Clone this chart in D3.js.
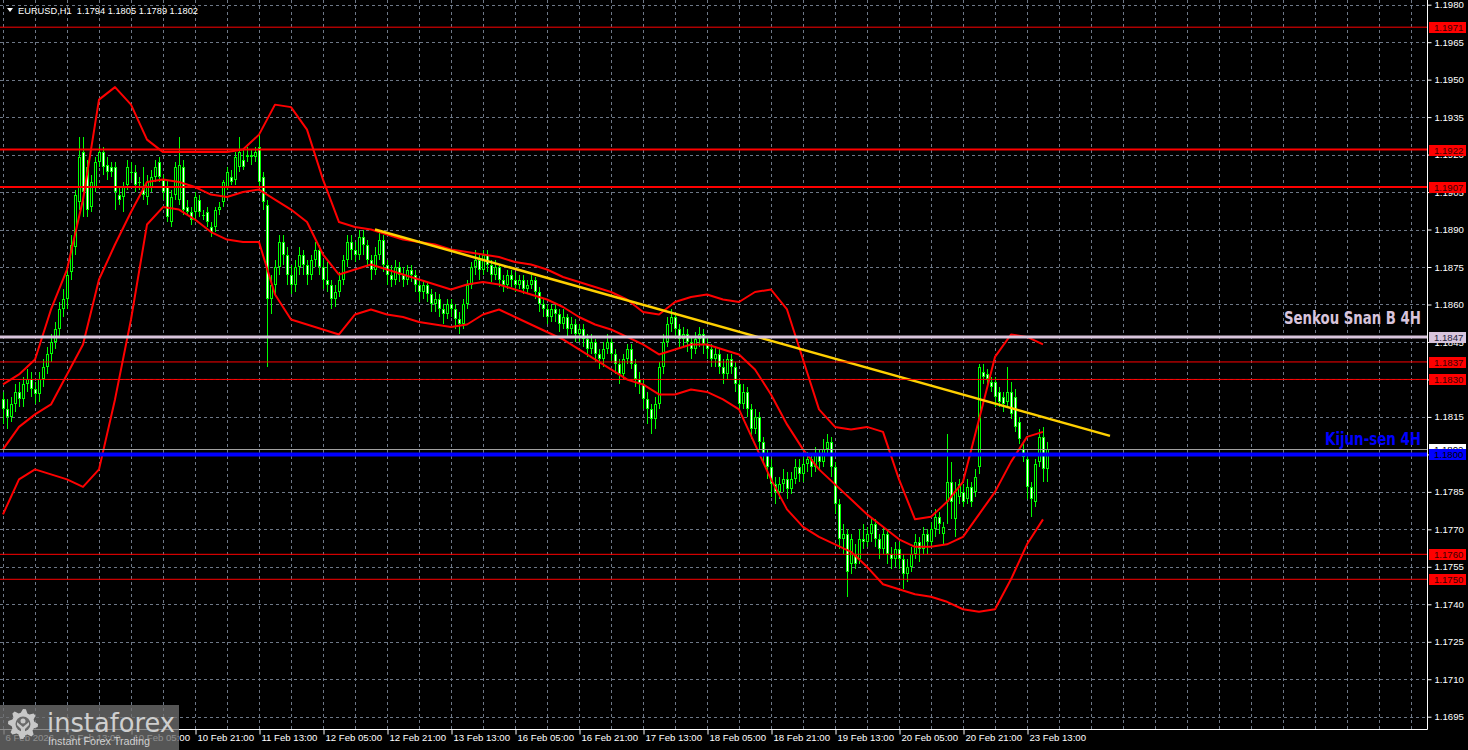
<!DOCTYPE html>
<html><head><meta charset="utf-8">
<script src="https://cdn.jsdelivr.net/npm/d3@7"></script>
<style>html,body{margin:0;padding:0;background:#000;overflow:hidden}</style>
</head><body><svg id="c" width="1468" height="750"></svg>
<script>
// ---------- DATA ----------
const symbolTitle = "EURUSD,H1  1.1794 1.1805 1.1789 1.1802";
const priceTicks = [1.1695,1.1710,1.1725,1.1740,1.1755,1.1770,1.1785,1.1800,1.1815,1.1830,1.1845,1.1860,1.1875,1.1890,1.1905,1.1920,1.1935,1.1950,1.1965,1.1980];
const timeLabels = ["6 Feb 2026","9 Feb 13:00","10 Feb 05:00","10 Feb 21:00","11 Feb 13:00","12 Feb 05:00","12 Feb 21:00","13 Feb 13:00","16 Feb 05:00","16 Feb 21:00","17 Feb 13:00","18 Feb 05:00","18 Feb 21:00","19 Feb 13:00","20 Feb 05:00","20 Feb 21:00","23 Feb 13:00"];
const timeLabelBars = [0,16,32,48,64,80,96,112,128,144,160,176,192,208,224,240,256];

const opens = [
1.1822,1.1818,1.1815,1.1820,1.1825,1.1822,1.1828,1.1830,1.1826,1.1824,1.1830,1.1835,1.1840,1.1845,1.1850,1.1858,
1.1862,1.1873,1.1883,1.1901,1.1921,1.1915,1.1899,1.1907,1.1917,1.1921,1.1916,1.1915,1.1915,1.1904,1.1903,1.1908,
1.1913,1.1913,1.1909,1.1907,1.1903,1.1907,1.1911,1.1917,1.1910,1.1907,1.1893,1.1904,1.1902,1.1915,1.1899,1.1897,
1.1897,1.1902,1.1896,1.1897,1.1891,1.1891,1.1898,1.1901,1.1907,1.1911,1.1910,1.1915,1.1918,1.1919,1.1919,1.1919,
1.1923,1.1911,1.1900,1.1862,1.1868,1.1875,1.1885,1.1880,1.1872,1.1868,1.1875,1.1880,1.1876,1.1872,1.1878,1.1882,
1.1875,1.1870,1.1868,1.1862,1.1865,1.1870,1.1878,1.1885,1.1882,1.1880,1.1887,1.1884,1.1878,1.1874,1.1880,1.1886,
1.1876,1.1872,1.1870,1.1875,1.1872,1.1870,1.1874,1.1872,1.1868,1.1865,1.1868,1.1864,1.1860,1.1862,1.1858,1.1856,
1.1860,1.1858,1.1854,1.1852,1.1860,1.1868,1.1875,1.1878,1.1874,1.1880,1.1876,1.1872,1.1875,1.1870,1.1868,1.1872,
1.1870,1.1868,1.1870,1.1866,1.1868,1.1870,1.1865,1.1860,1.1858,1.1855,1.1858,1.1856,1.1852,1.1855,1.1850,1.1852,
1.1848,1.1850,1.1846,1.1842,1.1845,1.1840,1.1838,1.1842,1.1845,1.1840,1.1836,1.1832,1.1838,1.1842,1.1836,1.1830,
1.1828,1.1822,1.1818,1.1814,1.1820,1.1835,1.1845,1.1852,1.1855,1.1850,1.1846,1.1848,1.1845,1.1842,1.1846,1.1848,
1.1844,1.1842,1.1838,1.1840,1.1835,1.1832,1.1838,1.1835,1.1828,1.1820,1.1825,1.1818,1.1810,1.1815,1.1805,1.1800,
1.1795,1.1788,1.1785,1.1788,1.1790,1.1786,1.1790,1.1795,1.1792,1.1796,1.1798,1.1795,1.1800,1.1797,1.1802,1.1805,
1.1795,1.1780,1.1766,1.1768,1.1756,1.1760,1.1758,1.1766,1.1765,1.1768,1.1772,1.1766,1.1762,1.1768,1.1760,1.1758,
1.1762,1.1758,1.1752,1.1755,1.1760,1.1765,1.1762,1.1768,1.1765,1.1770,1.1775,1.1768,1.1781,1.1789,1.1774,1.1783,
1.1785,1.1782,1.1787,1.1785,1.1795,1.1833,1.1832,1.1829,1.1829,1.1825,1.1823,1.1821,1.1825,1.1823,1.1813,1.1802,
1.1798,1.1787,1.1781,1.1797,1.1807,1.1794];
const closes = [
1.1818,1.1815,1.1820,1.1825,1.1822,1.1828,1.1830,1.1826,1.1824,1.1830,1.1835,1.1840,1.1845,1.1850,1.1858,1.1862,
1.1872,1.1884,1.1904,1.1919,1.1905,1.1898,1.1909,1.1917,1.1921,1.1915,1.1913,1.1913,1.1905,1.1902,1.1907,1.1915,
1.1913,1.1908,1.1909,1.1904,1.1909,1.1911,1.1915,1.1911,1.1905,1.1895,1.1903,1.1915,1.1916,1.1898,1.1897,1.1894,
1.1903,1.1897,1.1896,1.1893,1.1889,1.1898,1.1899,1.1909,1.1913,1.1909,1.1919,1.1921,1.1915,1.1920,1.1920,1.1921,
1.1909,1.1901,1.1862,1.1868,1.1875,1.1885,1.1880,1.1872,1.1868,1.1875,1.1880,1.1876,1.1872,1.1878,1.1882,1.1875,
1.1870,1.1868,1.1862,1.1865,1.1870,1.1878,1.1885,1.1882,1.1880,1.1887,1.1884,1.1878,1.1874,1.1880,1.1886,1.1876,
1.1872,1.1870,1.1875,1.1872,1.1870,1.1874,1.1872,1.1868,1.1865,1.1868,1.1864,1.1860,1.1862,1.1858,1.1856,1.1860,
1.1858,1.1854,1.1852,1.1860,1.1868,1.1875,1.1878,1.1874,1.1880,1.1876,1.1872,1.1875,1.1870,1.1868,1.1872,1.1870,
1.1868,1.1870,1.1866,1.1868,1.1870,1.1865,1.1860,1.1858,1.1855,1.1858,1.1856,1.1852,1.1855,1.1850,1.1852,1.1848,
1.1850,1.1846,1.1842,1.1845,1.1840,1.1838,1.1842,1.1845,1.1840,1.1836,1.1832,1.1838,1.1842,1.1836,1.1830,1.1828,
1.1822,1.1818,1.1814,1.1820,1.1835,1.1845,1.1852,1.1855,1.1850,1.1846,1.1848,1.1845,1.1842,1.1846,1.1848,1.1844,
1.1842,1.1838,1.1840,1.1835,1.1832,1.1838,1.1835,1.1828,1.1820,1.1825,1.1818,1.1810,1.1815,1.1805,1.1800,1.1795,
1.1788,1.1785,1.1788,1.1790,1.1786,1.1790,1.1795,1.1792,1.1796,1.1798,1.1795,1.1800,1.1797,1.1802,1.1805,1.1795,
1.1780,1.1766,1.1768,1.1753,1.1766,1.1756,1.1766,1.1765,1.1768,1.1772,1.1766,1.1762,1.1768,1.1760,1.1758,1.1762,
1.1758,1.1752,1.1755,1.1760,1.1765,1.1762,1.1768,1.1765,1.1770,1.1775,1.1772,1.1771,1.1789,1.1781,1.1785,1.1788,
1.1781,1.1787,1.1781,1.1791,1.1835,1.1831,1.1830,1.1827,1.1823,1.1821,1.1820,1.1825,1.1816,1.1811,1.1806,1.1799,
1.1787,1.1782,1.1796,1.1807,1.1794,1.1802];
const highs = [
1.1825,1.1822,1.1823,1.1828,1.1829,1.1831,1.1834,1.1833,1.1829,1.1833,1.1838,1.1843,1.1848,1.1853,1.1861,1.1866,
1.1876,1.1888,1.1906,1.1927,1.1927,1.1918,1.1912,1.1919,1.1923,1.1923,1.1919,1.1917,1.1917,1.1907,1.1909,1.1918,
1.1917,1.1916,1.1911,1.1915,1.1912,1.1914,1.1918,1.1919,1.1912,1.1910,1.1906,1.1917,1.1927,1.1918,1.1902,1.1899,
1.1905,1.1904,1.1898,1.1899,1.1893,1.1899,1.1901,1.1910,1.1915,1.1914,1.1921,1.1927,1.1922,1.1923,1.1922,1.1923,
1.1928,1.1913,1.1902,1.1872,1.1878,1.1888,1.1888,1.1883,1.1876,1.1878,1.1883,1.1882,1.1878,1.1880,1.1885,1.1884,
1.1878,1.1877,1.1870,1.1868,1.1873,1.1880,1.1888,1.1888,1.1885,1.1890,1.1890,1.1886,1.1880,1.1883,1.1889,1.1888,
1.1878,1.1876,1.1878,1.1877,1.1875,1.1876,1.1876,1.1874,1.1870,1.1870,1.1869,1.1866,1.1865,1.1864,1.1860,1.1862,
1.1862,1.1860,1.1857,1.1862,1.1870,1.1877,1.1882,1.1880,1.1882,1.1882,1.1878,1.1878,1.1876,1.1872,1.1874,1.1874,
1.1873,1.1872,1.1872,1.1870,1.1872,1.1871,1.1867,1.1862,1.1860,1.1860,1.1860,1.1858,1.1858,1.1856,1.1855,1.1854,
1.1852,1.1852,1.1848,1.1848,1.1846,1.1842,1.1845,1.1848,1.1847,1.1842,1.1838,1.1840,1.1844,1.1844,1.1838,1.1833,
1.1830,1.1825,1.1820,1.1823,1.1837,1.1848,1.1855,1.1858,1.1857,1.1852,1.1851,1.1850,1.1847,1.1849,1.1851,1.1850,
1.1847,1.1844,1.1843,1.1842,1.1838,1.1840,1.1840,1.1837,1.1830,1.1828,1.1827,1.1820,1.1818,1.1817,1.1807,1.1802,
1.1798,1.1791,1.1791,1.1794,1.1793,1.1793,1.1798,1.1798,1.1799,1.1801,1.1800,1.1803,1.1802,1.1806,1.1808,1.1807,
1.1797,1.1782,1.1772,1.1770,1.1768,1.1764,1.1770,1.1772,1.1771,1.1775,1.1774,1.1768,1.1771,1.1770,1.1763,1.1765,
1.1765,1.1760,1.1758,1.1763,1.1768,1.1767,1.1771,1.1770,1.1773,1.1778,1.1777,1.1773,1.1808,1.1797,1.1789,1.1790,
1.1788,1.1790,1.1789,1.1794,1.1836,1.1836,1.1834,1.1831,1.1831,1.1827,1.1825,1.1835,1.1829,1.1826,1.1815,1.1805,
1.1800,1.1789,1.1798,1.1810,1.1811,1.1805];
const lows = [
1.1812,1.1810,1.1813,1.1817,1.1819,1.1819,1.1825,1.1823,1.1820,1.1821,1.1827,1.1832,1.1837,1.1842,1.1847,1.1855,
1.1858,1.1870,1.1880,1.1898,1.1895,1.1895,1.1897,1.1905,1.1915,1.1912,1.1910,1.1911,1.1898,1.1900,1.1897,1.1906,
1.1910,1.1905,1.1906,1.1902,1.1900,1.1905,1.1909,1.1909,1.1902,1.1893,1.1891,1.1902,1.1900,1.1896,1.1896,1.1892,
1.1894,1.1895,1.1894,1.1891,1.1887,1.1889,1.1896,1.1899,1.1906,1.1908,1.1908,1.1913,1.1914,1.1917,1.1916,1.1917,
1.1907,1.1898,1.1835,1.1856,1.1864,1.1872,1.1876,1.1868,1.1864,1.1865,1.1872,1.1872,1.1868,1.1870,1.1875,1.1872,
1.1866,1.1865,1.1858,1.1859,1.1863,1.1868,1.1875,1.1878,1.1877,1.1878,1.1880,1.1875,1.1870,1.1872,1.1878,1.1873,
1.1868,1.1867,1.1868,1.1869,1.1867,1.1868,1.1869,1.1865,1.1861,1.1862,1.1861,1.1857,1.1857,1.1855,1.1852,1.1854,
1.1855,1.1850,1.1848,1.1850,1.1858,1.1866,1.1872,1.1870,1.1872,1.1873,1.1869,1.1870,1.1867,1.1865,1.1866,1.1867,
1.1865,1.1866,1.1864,1.1864,1.1866,1.1862,1.1857,1.1855,1.1852,1.1853,1.1853,1.1849,1.1850,1.1847,1.1848,1.1845,
1.1845,1.1843,1.1839,1.1840,1.1837,1.1834,1.1835,1.1840,1.1837,1.1832,1.1828,1.1830,1.1836,1.1834,1.1827,1.1824,
1.1818,1.1812,1.1808,1.1810,1.1818,1.1832,1.1843,1.1849,1.1847,1.1843,1.1843,1.1841,1.1838,1.1840,1.1843,1.1840,
1.1838,1.1835,1.1835,1.1832,1.1828,1.1830,1.1832,1.1825,1.1817,1.1818,1.1815,1.1806,1.1808,1.1802,1.1796,1.1790,
1.1783,1.1780,1.1782,1.1785,1.1782,1.1784,1.1788,1.1789,1.1789,1.1793,1.1791,1.1793,1.1794,1.1795,1.1800,1.1791,
1.1776,1.1762,1.1760,1.1743,1.1752,1.1754,1.1756,1.1762,1.1763,1.1765,1.1763,1.1758,1.1760,1.1756,1.1754,1.1755,
1.1754,1.1746,1.1749,1.1753,1.1758,1.1757,1.1760,1.1760,1.1763,1.1767,1.1768,1.1764,1.1772,1.1774,1.1767,1.1780,
1.1779,1.1780,1.1779,1.1783,1.1792,1.1828,1.1827,1.1825,1.1819,1.1819,1.1817,1.1819,1.1814,1.1809,1.1804,1.1797,
1.1782,1.1775,1.1779,1.1795,1.1789,1.1789];

// Bollinger band values (4H bands on H1) sampled every 4 bars (bar 0,4,...,260)
const bandStep = 4;
const bbUpper = [1.1828,1.1832,1.1838,1.1858,1.1874,1.1902,1.1942,1.1947,1.1940,1.1926,1.1921,1.1921,1.1921,1.1921,1.1921,1.1922,1.1928,1.1940,1.1939,1.1930,1.1910,1.1893,1.1891,1.1890,1.1888,1.1886,1.1885,1.1884,1.1882,1.1881,1.1880,1.1879,1.1877,1.1876,1.1874,1.1871,1.1869,1.1867,1.1865,1.1862,1.1857,1.1856,1.1861,1.1863,1.1864,1.1862,1.1861,1.1865,1.1866,1.1858,1.1838,1.1818,1.1811,1.1810,1.1811,1.1809,1.1790,1.1774,1.1775,1.1781,1.1789,1.1814,1.1839,1.1848,1.1847,1.1844];
const bbMiddle = [1.1802,1.1811,1.1816,1.1820,1.1832,1.1844,1.1870,1.1884,1.1897,1.1909,1.1910,1.1909,1.1907,1.1904,1.1903,1.1905,1.1906,1.1902,1.1898,1.1893,1.1880,1.1872,1.1874,1.1876,1.1874,1.1872,1.1870,1.1868,1.1866,1.1868,1.1869,1.1868,1.1866,1.1864,1.1862,1.1859,1.1855,1.1852,1.1850,1.1847,1.1844,1.1840,1.1842,1.1844,1.1844,1.1842,1.1840,1.1834,1.1824,1.1812,1.1802,1.1794,1.1788,1.1782,1.1776,1.1771,1.1766,1.1763,1.1763,1.1764,1.1767,1.1776,1.1785,1.1797,1.1807,1.1809];
const bbLower = [1.1776,1.1790,1.1794,1.1792,1.1790,1.1787,1.1794,1.1822,1.1854,1.1892,1.1899,1.1898,1.1894,1.1889,1.1886,1.1885,1.1885,1.1864,1.1854,1.1852,1.1850,1.1848,1.1856,1.1858,1.1856,1.1855,1.1853,1.1852,1.1851,1.1852,1.1856,1.1858,1.1855,1.1852,1.1849,1.1846,1.1842,1.1838,1.1834,1.1830,1.1828,1.1824,1.1824,1.1826,1.1825,1.1822,1.1818,1.1804,1.1790,1.1778,1.1771,1.1767,1.1764,1.1761,1.1755,1.1748,1.1746,1.1744,1.1743,1.1741,1.1738,1.1737,1.1738,1.1750,1.1764,1.1774];

// horizontal levels
const redLevels = [1.1971,1.1922,1.1907,1.1837,1.1830,1.1760,1.1750];
const redLevelWidths = [1,2,2,1,1,1,1];
const senkouLevel = 1.1847, senkouText = "Senkou Snan B 4H";
const kijunLevel = 1.1800, kijunText = "Kijun-sen 4H";
const bidLevel = 1.1802;
// trend line: [bar, price]
const trendStart = [93, 1.1890], trendEnd = [276.75, 1.18074];

// ---------- DRAW ----------
const W = 1468, H = 750, PR = 1427, PB = 729;
const svg = d3.select("#c");
svg.append("rect").attr("width", W).attr("height", H).attr("fill", "#000");
const x = d3.scaleLinear().domain([0, 356]).range([3, PR]);
const y = d3.scaleLinear().domain([1.1695, 1.1980]).range([716.7, 4.7]);
const FONT = "'Liberation Sans', Arial, sans-serif";
const px = v => Math.round(v) + 0.5;
const fmt = d3.format(".4f");

// grid
const grid = svg.append("g").attr("stroke", "#6e7887").attr("stroke-width", 1).attr("stroke-dasharray", "3,3").attr("shape-rendering", "crispEdges");
priceTicks.forEach(p => grid.append("line").attr("x1", 0).attr("x2", PR).attr("y1", px(y(p))).attr("y2", px(y(p))));
d3.range(0, 357, 8).forEach(b => grid.append("line").attr("x1", px(x(b))).attr("x2", px(x(b))).attr("y1", 0).attr("y2", PB));

// candles
const cg = svg.append("g").attr("shape-rendering", "crispEdges");
closes.forEach((c, i) => {
  const o = opens[i], cx = Math.round(x(i));
  const yt = Math.round(y(Math.max(o, c))), yb = Math.round(y(Math.min(o, c)));
  const yh = Math.min(yt, Math.round(y(highs[i]))), yl = Math.max(yb, Math.round(y(lows[i])));
  cg.append("rect").attr("x", cx).attr("y", yh).attr("width", 1).attr("height", Math.max(1, yl - yh)).attr("fill", "#00ff00");
  const hh = Math.max(1, yb - yt);
  cg.append("rect").attr("x", cx - 1).attr("y", yt).attr("width", 3).attr("height", hh).attr("fill", "#00ff00");
  if (hh > 2) cg.append("rect").attr("x", cx).attr("y", yt + 1).attr("width", 1).attr("height", hh - 2).attr("fill", c >= o ? "#000" : "#ffffff");
});

// bollinger bands
const bandLine = d3.line().x((d, i) => x(i * bandStep)).y(d => y(d));
[bbUpper, bbMiddle, bbLower].forEach(arr => svg.append("path").attr("d", bandLine(arr)).attr("fill", "none").attr("stroke", "#ff0000").attr("stroke-width", 2).attr("stroke-linejoin", "round"));

// trend line
svg.append("line").attr("x1", x(trendStart[0])).attr("y1", y(trendStart[1])).attr("x2", x(trendEnd[0])).attr("y2", y(trendEnd[1]))
  .attr("stroke", "#ffd000").attr("stroke-width", 2.5);

// horizontal lines
redLevels.forEach((p, i) => svg.append("line").attr("x1", 0).attr("x2", PR).attr("y1", y(p)).attr("y2", y(p)).attr("stroke", "#ff0000").attr("stroke-width", redLevelWidths[i]));
svg.append("line").attr("x1", 0).attr("x2", PR).attr("y1", px(y(bidLevel))).attr("y2", px(y(bidLevel))).attr("stroke", "#a0a0a0").attr("stroke-width", 1);
svg.append("line").attr("x1", 0).attr("x2", PR).attr("y1", y(senkouLevel)).attr("y2", y(senkouLevel)).attr("stroke", "#d8c4dc").attr("stroke-width", 3);
svg.append("line").attr("x1", 0).attr("x2", PR).attr("y1", y(kijunLevel)).attr("y2", y(kijunLevel)).attr("stroke", "#0000ff").attr("stroke-width", 4);

// text objects
const TF = "'DejaVu Sans Condensed', 'DejaVu Sans', sans-serif";
svg.append("text").attr("x", 1421).attr("y", y(senkouLevel) - 13).attr("text-anchor", "end").attr("font-family", TF).attr("font-weight", "bold")
  .attr("font-size", 18).attr("fill", "#d8c4dc").attr("textLength", 137).attr("lengthAdjust", "spacingAndGlyphs").text(senkouText);
svg.append("text").attr("x", 1421).attr("y", y(kijunLevel) - 9).attr("text-anchor", "end").attr("font-family", TF).attr("font-weight", "bold")
  .attr("font-size", 18).attr("fill", "#0000ff").attr("textLength", 96).attr("lengthAdjust", "spacingAndGlyphs").text(kijunText);

// frame
svg.append("line").attr("x1", 0).attr("x2", PR + 0.5).attr("y1", PB + 0.5).attr("y2", PB + 0.5).attr("stroke", "#fff");
svg.append("line").attr("x1", PR + 0.5).attr("x2", PR + 0.5).attr("y1", 0).attr("y2", PB + 0.5).attr("stroke", "#fff");

// right axis (labels fully under a price box are hidden, as in the terminal)
const boxed = redLevels.concat([senkouLevel, kijunLevel, bidLevel]);
const yAxis = d3.axisRight(y).tickValues(priceTicks)
  .tickFormat(d => boxed.some(b => Math.abs(b - d) < 0.00005) ? "" : fmt(d))
  .tickSize(4).tickPadding(3);
const ya = svg.append("g").attr("transform", `translate(${PR + 0.5},0)`).call(yAxis);
ya.select(".domain").remove();
ya.selectAll("line").attr("stroke", "#fff");
ya.selectAll("text").attr("fill", "#fff").attr("font-family", FONT).attr("font-size", 9.6);

// bottom axis
const xAxis = d3.axisBottom(x).tickValues(timeLabelBars).tickFormat((d, i) => timeLabels[i]).tickSize(5).tickPadding(3);
const xa = svg.append("g").attr("transform", `translate(0,${PB + 0.5})`).call(xAxis);
xa.select(".domain").remove();
xa.selectAll("line").attr("stroke", "#fff").attr("transform", "translate(0.5,0)");
xa.selectAll("text").attr("fill", "#fff").attr("font-family", FONT).attr("font-size", 9.6).attr("text-anchor", "start").attr("dx", 2).attr("dy", "0.4em");

// price label boxes
function priceBox(p, fill, textFill) {
  const yy = y(p);
  svg.append("rect").attr("x", PR + 2).attr("y", Math.round(yy) - 5).attr("width", 37).attr("height", 11).attr("fill", fill);
  svg.append("text").attr("x", PR + 7).attr("y", Math.round(yy) + 4).attr("font-family", FONT).attr("font-size", 9.6).attr("fill", textFill).text(fmt(p));
}
redLevels.forEach(p => priceBox(p, "#ff0000", "#3a0000"));
priceBox(senkouLevel, "#d8c4dc", "#20203a");
priceBox(bidLevel, "#ffffff", "#000");
priceBox(kijunLevel, "#0000ff", "#000");

// header
svg.append("path").attr("d", "M7,8 L13,8 L10,12 Z").attr("fill", "#fff");
svg.append("text").attr("x", 18).attr("y", 14).attr("font-family", FONT).attr("font-size", 9.8).attr("fill", "#fff").style("white-space", "pre")
  .attr("textLength", 180).attr("lengthAdjust", "spacingAndGlyphs").text(symbolTitle);

// logo
const logo = svg.append("g");
logo.append("rect").attr("x", 0).attr("y", 705).attr("width", 179).attr("height", 45).attr("fill", "rgb(110,110,110)").attr("fill-opacity", 0.78);
const gcx = 23, gcy = 724, teeth = 8, rO = 15, rI = 11.5;
const gearPts = [];
for (let k = 0; k < teeth * 4; k++) {
  const a = (k / (teeth * 4)) * 2 * Math.PI - Math.PI / 2;
  const r = (k % 4 === 0 || k % 4 === 1) ? rO : rI;
  gearPts.push([gcx + r * Math.cos(a), gcy + r * Math.sin(a)]);
}
logo.append("path").attr("d", "M" + gearPts.map(p => p.join(",")).join("L") + "Z").attr("fill", "#c8c8c8");
logo.append("circle").attr("cx", gcx).attr("cy", gcy).attr("r", 7.5).attr("fill", "#6a6a6a");
logo.append("circle").attr("cx", gcx).attr("cy", gcy - 3).attr("r", 2.5).attr("fill", "#c8c8c8");
logo.append("path").attr("d", `M${gcx - 6},${gcy - 2} L${gcx},${gcy + 3} L${gcx + 6},${gcy - 2} L${gcx + 6},${gcy + 1} L${gcx + 2},${gcy + 5} L${gcx + 2},${gcy + 13} L${gcx - 2},${gcy + 13} L${gcx - 2},${gcy + 5} L${gcx - 6},${gcy + 1} Z`).attr("fill", "#c8c8c8");
logo.append("text").attr("x", 47).attr("y", 732).attr("font-family", "'DejaVu Sans', sans-serif").attr("font-size", 27).attr("fill", "#cfcfcf").attr("textLength", 128).attr("lengthAdjust", "spacingAndGlyphs").text("instaforex");
logo.append("text").attr("x", 48).attr("y", 745).attr("font-family", FONT).attr("font-size", 11.5).attr("fill", "#cfcfcf").attr("textLength", 102).attr("lengthAdjust", "spacingAndGlyphs").text("Instant Forex Trading");
</script></body></html>
